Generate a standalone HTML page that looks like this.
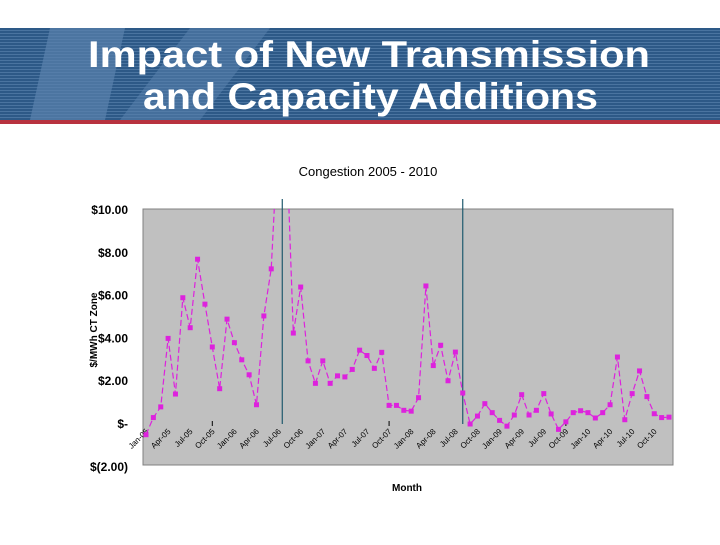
<!DOCTYPE html>
<html><head><meta charset="utf-8"><style>
body{margin:0;width:720px;height:540px;background:#fff;overflow:hidden;font-family:"Liberation Sans",sans-serif}
</style></head><body>
<svg width="720" height="540" xmlns="http://www.w3.org/2000/svg">
<defs>
<pattern id="stripes" width="4" height="3" patternUnits="userSpaceOnUse"><rect width="4" height="3" fill="#2d5987"/><rect width="4" height="1" fill="#4a74a0"/></pattern>
</defs>
<g>
<rect x="0" y="28" width="720" height="92" fill="url(#stripes)"/>
<polygon points="30,120 50,28 125,28 105,120" fill="#5a82ad" opacity="0.7"/>
<polygon points="120,120 190,28 270,28 200,120" fill="#5a82ad" opacity="0.55"/>
<rect x="0" y="120" width="720" height="4" fill="#b8323f"/>
<text x="88" y="67" font-size="37" font-weight="bold" fill="#fff" textLength="562" lengthAdjust="spacingAndGlyphs">Impact of New Transmission</text>
<text x="143" y="109" font-size="37" font-weight="bold" fill="#fff" textLength="455" lengthAdjust="spacingAndGlyphs">and Capacity Additions</text>
</g>
<text x="368" y="176" text-anchor="middle" font-size="13" fill="#000">Congestion 2005 - 2010</text>
<rect x="143" y="209" width="530" height="256" fill="#c0c0c0" stroke="#808080"/>
<text transform="translate(97,330) rotate(-90)" text-anchor="middle" font-size="10" font-weight="bold">$/MWh CT Zone</text>
<text x="407" y="491" text-anchor="middle" font-size="10" font-weight="bold">Month</text>
<g id="yticks"></g><g id="xlabels"></g><g id="vlines"></g><g id="series"></g>
</svg>
<script>
const months=["Jan","Feb","Mar","Apr","May","Jun","Jul","Aug","Sep","Oct","Nov","Dec"];
const years=["05","06","07","08","09","10"];
const yTickValues=[10,8,6,4,2,0,-2];
const yTickLabels=["$10.00","$8.00","$6.00","$4.00","$2.00","$-","$(2.00)"];
const congestion=[-0.5,0.3,0.8,4.0,1.4,5.9,4.5,7.7,5.6,3.6,1.65,4.9,3.8,3.0,2.3,0.9,5.05,7.25,14,14,4.25,6.4,2.95,1.9,2.95,1.9,2.25,2.2,2.55,3.45,3.2,2.6,3.35,0.87,0.87,0.64,0.6,1.23,6.45,2.73,3.68,2.02,3.36,1.45,0.0,0.37,0.95,0.53,0.17,-0.1,0.42,1.37,0.42,0.64,1.42,0.47,-0.25,0.1,0.53,0.62,0.53,0.28,0.53,0.9,3.13,0.2,1.42,2.48,1.28,0.48,0.3,0.32];
const eventIndices=[18.5,43];
const NS="http://www.w3.org/2000/svg";
const yScale=v=>424-v*21.4;
const xScale=i=>146+i*(523/(congestion.length-1));
function mk(t,a,p){const e=document.createElementNS(NS,t);for(const k in a)e.setAttribute(k,a[k]);p.appendChild(e);return e;}
const yt=document.getElementById('yticks');
yTickValues.forEach((v,i)=>{const t=mk('text',{x:128,y:yScale(v)+4,'text-anchor':'end','font-size':12,'font-weight':'bold'},yt);


t.textContent=yTickLabels[i];});
const xl=document.getElementById('xlabels');
for(let i=0;i<congestion.length;i+=3){const x=xScale(i)+3,y=yScale(0)+8;
const t=mk('text',{x:x,y:y,transform:`rotate(-45 ${x} ${y})`,'text-anchor':'end','font-size':8},xl);


t.textContent=months[i%12]+"-"+years[Math.floor(i/12)];}
[9,33,57].forEach(i=>{const l=mk('line',{x1:xScale(i),x2:xScale(i),y1:yScale(0)-3,y2:yScale(0)+2,stroke:'#000'},xl);

});
const vl=document.getElementById('vlines');
eventIndices.forEach(i=>{const l=mk('line',{x1:xScale(i),x2:xScale(i),y1:199,y2:yScale(0),stroke:'#1f5a6e','stroke-width':1.2},vl);

});
const s=document.getElementById('series');
const cp=mk('clipPath',{id:'clip'},s);mk('rect',{x:143,y:209,width:530,height:256},cp);
const g=mk('g',{'clip-path':'url(#clip)'},s);
const pl=mk('polyline',{points:congestion.map((v,i)=>xScale(i)+','+yScale(v)).join(' '),fill:'none',stroke:'#dd22dd','stroke-width':1.2,'stroke-dasharray':'6,3'},g);


congestion.forEach((v,i)=>{const r=mk('rect',{x:xScale(i)-2.5,y:yScale(v)-2.5,width:5,height:5,fill:'#dd22dd'},g);

});
</script>
</body></html>
